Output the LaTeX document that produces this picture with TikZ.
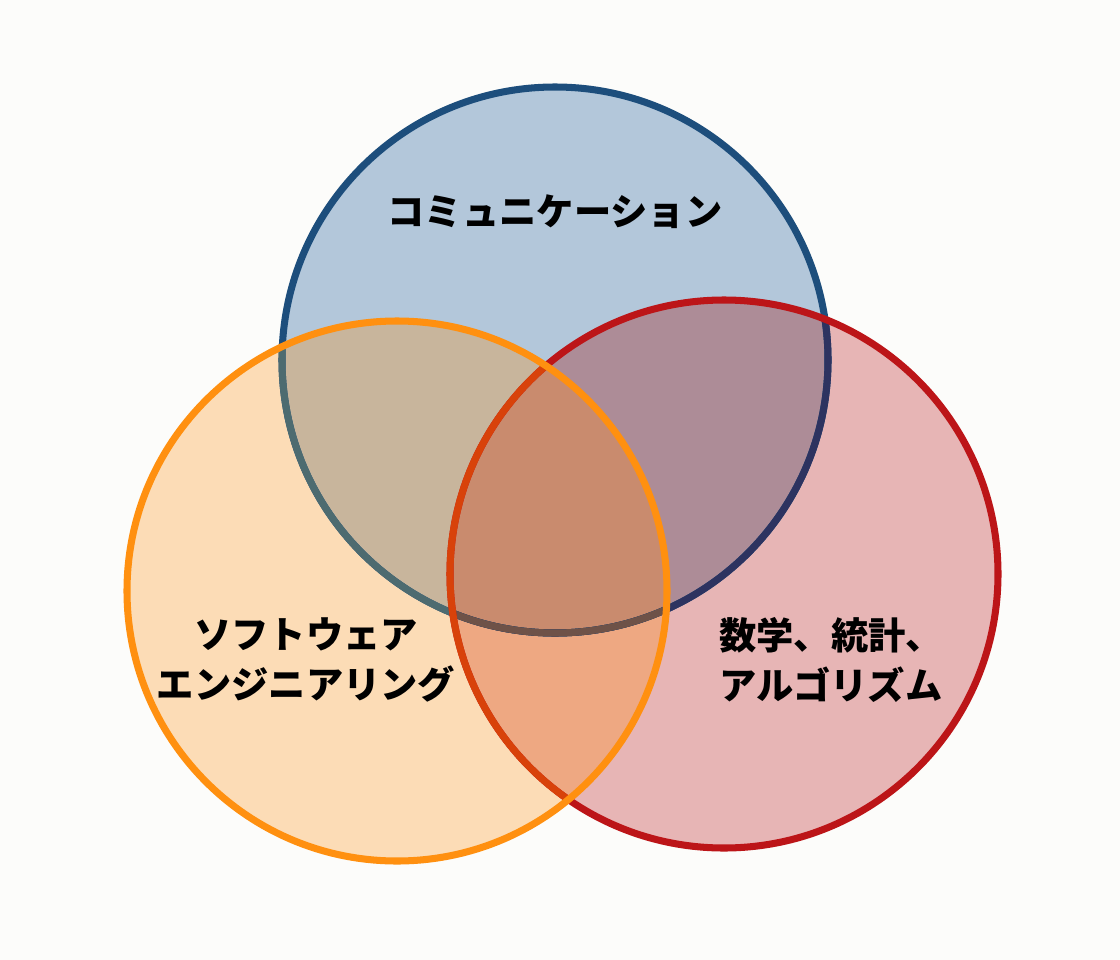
\documentclass[tikz,border=0pt]{standalone}
\usepackage{fontspec}
\newfontfamily\jpfont{Noto Sans CJK JP}
\usepackage{tikz}

\definecolor{bgcol}{HTML}{FCFCFA}
\definecolor{comfill}{HTML}{B3C7DA}
\definecolor{swfill}{HTML}{FCDCB6}
\definecolor{mathfill}{HTML}{E7B5B5}
\definecolor{comswfill}{HTML}{C8B59C}
\definecolor{commathfill}{HTML}{AD8C97}
\definecolor{swmathfill}{HTML}{EEA882}
\definecolor{allfill}{HTML}{C98B6E}
\definecolor{comline}{HTML}{1D4E7C}
\definecolor{comswline}{HTML}{4D6B70}
\definecolor{commathline}{HTML}{2D3360}
\definecolor{comallline}{HTML}{6E5248}
\definecolor{mathline}{HTML}{BC1518}
\definecolor{mathswline}{HTML}{D8420A}
\definecolor{swline}{HTML}{FF9010}

\begin{document}
\begin{tikzpicture}[x=0.025cm, y=-0.025cm,
  ring/.style = {line width=5pt},
  label/.style = {align=center, font=\jpfont\bfseries\fontsize{26.5pt}{35.6pt}\selectfont}]
  \fill[bgcol] (0,0) rectangle (1120,960);
  \useasboundingbox (0,0) rectangle (1120,960);
  \coordinate (com) at (555,360);
  \coordinate (sw) at (397,591);
  \coordinate (math) at (724,574);
  \fill[comfill] (com) circle (273);
  \fill[swfill] (sw) circle (270);
  \fill[mathfill] (math) circle (274);
  \begin{scope}
    \clip (sw) circle (270);
    \fill[swmathfill] (math) circle (274);
  \end{scope}
  \begin{scope}
    \clip (com) circle (273);
    \fill[comswfill] (sw) circle (270);
    \fill[commathfill] (math) circle (274);
    \clip (sw) circle (270);
    \fill[allfill] (math) circle (274);
  \end{scope}
  \draw[ring, comline] (com) circle (273);
  \begin{scope}
    \clip (sw) circle (270);
    \draw[ring, comswline] (com) circle (273);
  \end{scope}
  \begin{scope}
    \clip (math) circle (274);
    \draw[ring, commathline] (com) circle (273);
    \clip (sw) circle (270);
    \draw[ring, comallline] (com) circle (273);
  \end{scope}
  \draw[ring, mathline] (math) circle (274);
  \begin{scope}
    \clip (sw) circle (270);
    \draw[ring, mathswline] (math) circle (274);
  \end{scope}
  \draw[ring, swline] (sw) circle (270);
  \node[label] (comlabel) at (555,212) {コミュニケーション};
  \node[label] (swlabel) at (306,660) {ソフトウェア\\エンジニアリング};
  \node[label] (mathlabel) at (831,660) {数学、統計、\\アルゴリズム};
\end{tikzpicture}
\end{document}
